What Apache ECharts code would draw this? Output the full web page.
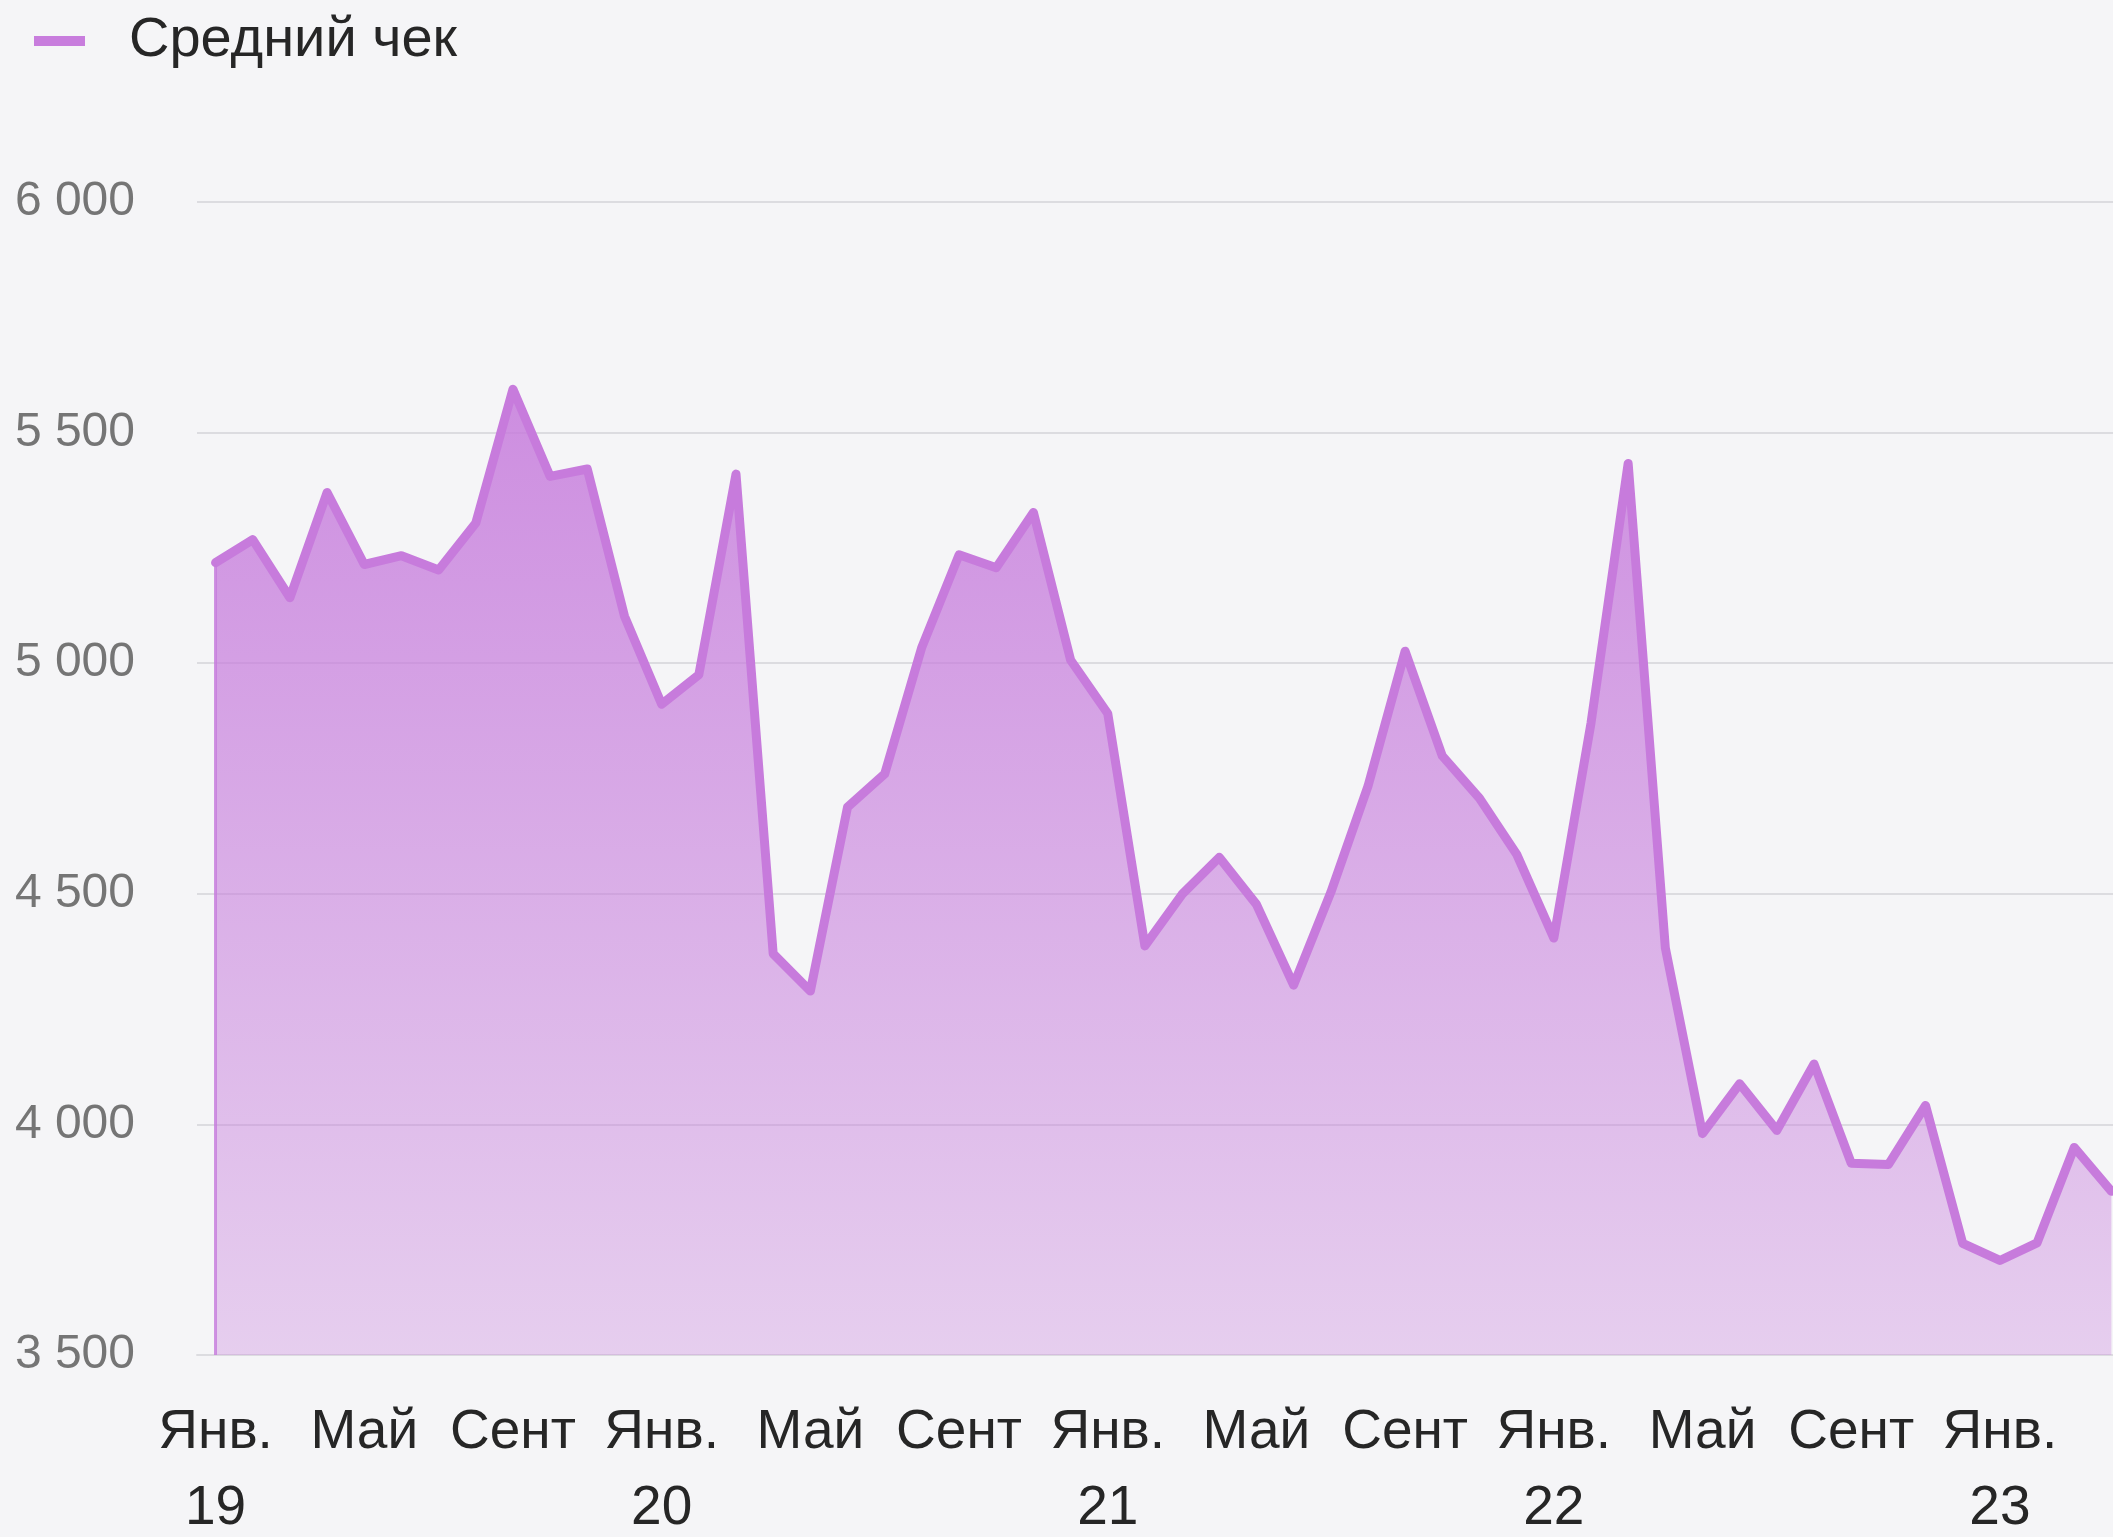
<!DOCTYPE html>
<html><head><meta charset="utf-8">
<script src="https://cdn.jsdelivr.net/npm/echarts@6/dist/echarts.min.js"></script>
<style>html,body{margin:0;padding:0;background:#f5f5f7}#c{width:2113px;height:1537px}</style>
</head><body><div id="c"></div>
<script>
const seriesName = 'Средний чек';
const categories = [
 'Янв.\n19','Фев.','Март','Апр.','Май','Июнь','Июль','Авг.','Сент','Окт.','Нояб.','Дек.',
 'Янв.\n20','Фев.','Март','Апр.','Май','Июнь','Июль','Авг.','Сент','Окт.','Нояб.','Дек.',
 'Янв.\n21','Фев.','Март','Апр.','Май','Июнь','Июль','Авг.','Сент','Окт.','Нояб.','Дек.',
 'Янв.\n22','Фев.','Март','Апр.','Май','Июнь','Июль','Авг.','Сент','Окт.','Нояб.','Дек.',
 'Янв.\n23','Фев.','Март','Апр.'
];
const values = [
 5218,5268,5142,5370,5214,5233,5202,5304,5594,5405,5421,5102,
 4911,4975,5410,4370,4289,4688,4760,5035,5235,5207,5327,5007,
 4891,4387,4499,4579,4477,4302,4503,4733,5026,4799,4707,4586,
 4404,4870,5433,4383,3980,4088,3987,4131,3916,3913,4041,3742,
 3705,3743,3950,3855
];
const yMin = 3500, yMax = 6000, yStep = 500;

const font = '"Liberation Sans", Arial, sans-serif';
const chart = echarts.init(document.getElementById('c'), null, {renderer: 'canvas'});
chart.setOption({
  backgroundColor: '#f5f5f7',
  animation: false,
  legend: {
    left: 29, top: 6,
    icon: 'rect', itemWidth: 51, itemHeight: 10,
    data: [{name: seriesName, itemStyle: {color: '#c87ddd'}}],
    textStyle: {fontFamily: font, fontSize: 56, color: '#262626', lineHeight: 60, padding: [0,0,0,39]}
  },
  grid: {left: 197, right: -17, top: 202, bottom: 182, containLabel: false, outerBoundsMode: 'none'},
  xAxis: {
    type: 'category', data: categories, boundaryGap: true,
    axisLine: {show: true, lineStyle: {color: '#dcdce0', width: 2}},
    axisTick: {show: false},
    axisLabel: {interval: 3, fontFamily: font, fontSize: 55, color: '#262626', lineHeight: 76, margin: 40}
  },
  yAxis: {
    type: 'value', min: yMin, max: yMax, interval: yStep,
    axisLine: {show: false}, axisTick: {show: false},
    splitLine: {lineStyle: {color: '#dcdce0', width: 2}},
    axisLabel: {fontFamily: font, fontSize: 48, color: '#757575', margin: 62,
      formatter: v => String(v).replace(/\B(?=(\d{3})+(?!\d))/g, ' ')}
  },
  series: [{
    name: seriesName, type: 'line', data: values, symbol: 'none',
    lineStyle: {color: '#c77bdc', width: 9, cap: 'round', join: 'round'},
    itemStyle: {color: '#c77bdc'},
    areaStyle: {opacity: 1, color: new echarts.graphic.LinearGradient(0,0,0,1,[
      {offset: 0, color: 'rgba(198,123,220,0.85)'},
      {offset: 1, color: 'rgba(198,123,220,0.32)'}
    ])},
    markLine: {
      silent: true, symbol: 'none', label: {show: false},
      lineStyle: {color: 'rgba(198,123,220,0.8)', width: 3, type: 'solid'},
      data: [[{coord: [0, yMin]}, {coord: [0, values[0]]}]]
    }
  }]
});
</script></body></html>
